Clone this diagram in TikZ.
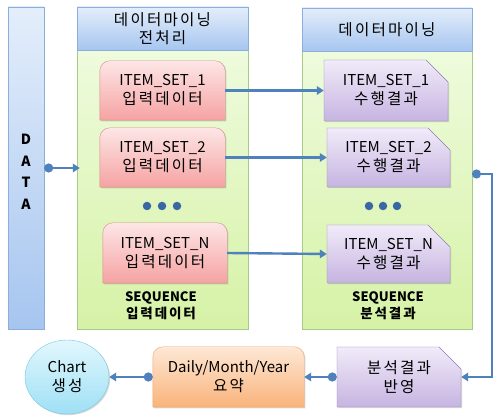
\documentclass[tikz,border=0pt]{standalone}
\usepackage{fontspec}
\setmainfont{Noto Sans CJK KR}
\newfontfamily\kr[LetterSpace=14,Scale=1.04]{Noto Sans CJK KR}
\usetikzlibrary{arrows.meta,shapes.geometric,shapes.misc,shadows}
\pgfdeclarelayer{bg}
\pgfsetlayers{bg,main}
\definecolor{arrowblue}{HTML}{4F81BD}
\definecolor{dotblue}{HTML}{3A66A3}
\definecolor{headtop}{HTML}{E4EEFB}
\definecolor{headbot}{HTML}{A6C5EF}
\definecolor{headborder}{HTML}{8CAEDC}
\definecolor{bodytop}{HTML}{EEFBDD}
\definecolor{bodybot}{HTML}{D6F2A6}
\definecolor{bodyborder}{HTML}{A9C98A}
\definecolor{redtop}{HTML}{FDE6E6}
\definecolor{redbot}{HTML}{F6A2A2}
\definecolor{redborder}{HTML}{D98A8A}
\definecolor{purtop}{HTML}{F1EBF9}
\definecolor{purbot}{HTML}{C6B4E1}
\definecolor{purborder}{HTML}{8F7DB8}
\definecolor{ortop}{HTML}{FEE8D6}
\definecolor{orbot}{HTML}{F9B37A}
\definecolor{orborder}{HTML}{EFA668}
\definecolor{cytop}{HTML}{E2F7FD}
\definecolor{cybot}{HTML}{9EE0F5}
\definecolor{cyborder}{HTML}{78C6E4}
\newcommand\bxfont{\fontsize{15}{19}\selectfont}
\newcommand\hdfont{\fontsize{15}{17.5}\selectfont}
\newcommand\seqfont{\bfseries\fontsize{13}{16.5}\selectfont}
\newcommand\toprnd[2]{\path[#2] (#1.south west) -- ([yshift=-10pt]#1.north west) arc[start angle=180,end angle=90,radius=10pt] -- ([xshift=-10pt]#1.north east) arc[start angle=90,end angle=0,radius=10pt] -- (#1.south east) -- cycle;}
\begin{document}
\begin{tikzpicture}[x=1pt,y=1pt,
  shad/.style={drop shadow={shadow xshift=1.2pt,shadow yshift=-1.2pt,opacity=0.25,fill=black!60}},
  databar/.style={draw=headborder, top color=headtop, bottom color=headbot, inner sep=0pt},
  panelhead/.style={draw=headborder, top color=headtop, bottom color=headbot, inner sep=0pt, align=center, font=\hdfont},
  panelbody/.style={draw=bodyborder, top color=bodytop, bottom color=bodybot, inner sep=0pt, shad},
  txtbox/.style={inner sep=0pt, align=center, font=\bxfont},
  redshape/.style={draw=redborder, top color=redtop, bottom color=redbot, shad},
  orshape/.style={draw=orborder, top color=ortop, bottom color=orbot, shad},
  purbox/.style={chamfered rectangle, chamfered rectangle corners=north east,
    chamfered rectangle xsep=11pt, chamfered rectangle ysep=11pt,
    draw=purborder, top color=purtop, bottom color=purbot, inner sep=0pt,
    align=center, font=\bxfont, shad},
  seqlabel/.style={align=center, inner sep=0pt, font=\seqfont},
  dotc/.style={circle, fill=dotblue, inner sep=0pt, minimum size=8.5pt},
  conn/.style={draw=arrowblue, line width=2.4pt, -{Triangle[length=7pt,width=8.5pt]}},
  dconn/.style={draw=arrowblue, line width=2.4pt, {Circle[length=9pt]}-{Triangle[length=7pt,width=8.5pt]}}
]
\useasboundingbox (0,0) rectangle (495,417);
\begin{pgfonlayer}{bg}
  \node[databar, shad, minimum width=36pt, minimum height=322pt] (data) at (26,249) {};
  \node[panelbody, minimum width=171pt, minimum height=279pt] (lbody) at (162.5,227.5) {};
  \node[panelhead, minimum width=171pt, minimum height=43pt] (lhead) at (162.5,388.5) {{\kr 데이터마이닝}\\{\kr 전처리}};
  \node[panelbody, minimum width=170pt, minimum height=278pt] (rbody) at (387,227) {};
  \node[panelhead, minimum width=170pt, minimum height=43pt] (rhead) at (387,387.5) {{\kr 데이터마이닝}};
\end{pgfonlayer}

\node[inner sep=0pt, align=center, font=\bfseries\fontsize{14}{21.5}\selectfont] (datatxt) at (26,245) {D\\A\\T\\A};

% input boxes
\node[txtbox, minimum width=125pt, minimum height=59pt] (r1) at (162.5,326.5) {ITEM\_SET\_1\\{\kr 입력데이터}};
\node[txtbox, minimum width=125pt, minimum height=59pt] (r2) at (162.5,259.5) {ITEM\_SET\_2\\{\kr 입력데이터}};
\node[txtbox, minimum width=124pt, minimum height=60pt] (rn) at (165,164) {ITEM\_SET\_N\\{\kr 입력데이터}};
\node[txtbox, minimum width=151pt, minimum height=60pt] (daily) at (228.5,40) {Daily/Month/Year\\{\kr 요약}};
\begin{pgfonlayer}{bg}
  \toprnd{r1}{redshape}
  \toprnd{r2}{redshape}
  \toprnd{rn}{redshape}
  \toprnd{daily}{orshape}
\end{pgfonlayer}

% result boxes
\node[purbox, minimum width=124pt, minimum height=61pt] (p1) at (386,326.5) {ITEM\_SET\_1\\{\kr 수행결과}};
\node[purbox, minimum width=123pt, minimum height=59pt] (p2) at (388.5,259.5) {ITEM\_SET\_2\\{\kr 수행결과}};
\node[purbox, minimum width=123pt, minimum height=58pt] (pn) at (388.5,163) {ITEM\_SET\_N\\{\kr 수행결과}};
\node[purbox, minimum width=124pt, minimum height=60pt] (result) at (399,40) {{\kr 분석결과}\\{\kr 반영}};

\node[ellipse, draw=cyborder, top color=cytop, bottom color=cybot, shad, inner sep=0pt,
  minimum width=84pt, minimum height=74pt, align=center, font=\bxfont] (chart) at (67,40) {Chart\\{\kr 생성}};

% dots
\node[dotc] (ld1) at (147,211) {};
\node[dotc] (ld2) at (162,211) {};
\node[dotc] (ld3) at (177,211) {};
\node[dotc] (rd1) at (369,211) {};
\node[dotc] (rd2) at (383,211) {};
\node[dotc] (rd3) at (397,211) {};

% sequence labels
\node[seqlabel] (lseq) at (161,111.5) {SEQUENCE\\{\kr 입력데이터}};
\node[seqlabel] (rseq) at (388,111.5) {SEQUENCE\\{\kr 분석결과}};

% connectors
\coordinate (din) at ([xshift=3pt]data.east -| lbody.west);
\draw[dconn] (data.east) -- (din);
\draw[conn] (r1.east) -- (p1.west);
\draw[conn] (r2.east) -- (p2.west);
\draw[conn] (rn.east) -- (pn.west);
\coordinate (rout) at (472,243);
\draw[dconn] (rout) -- ++(20,0) |- (result.east);
\draw[dconn] (result.west) -- (daily.east);
\draw[dconn] (daily.west) -- (chart.east);
\end{tikzpicture}
\end{document}
